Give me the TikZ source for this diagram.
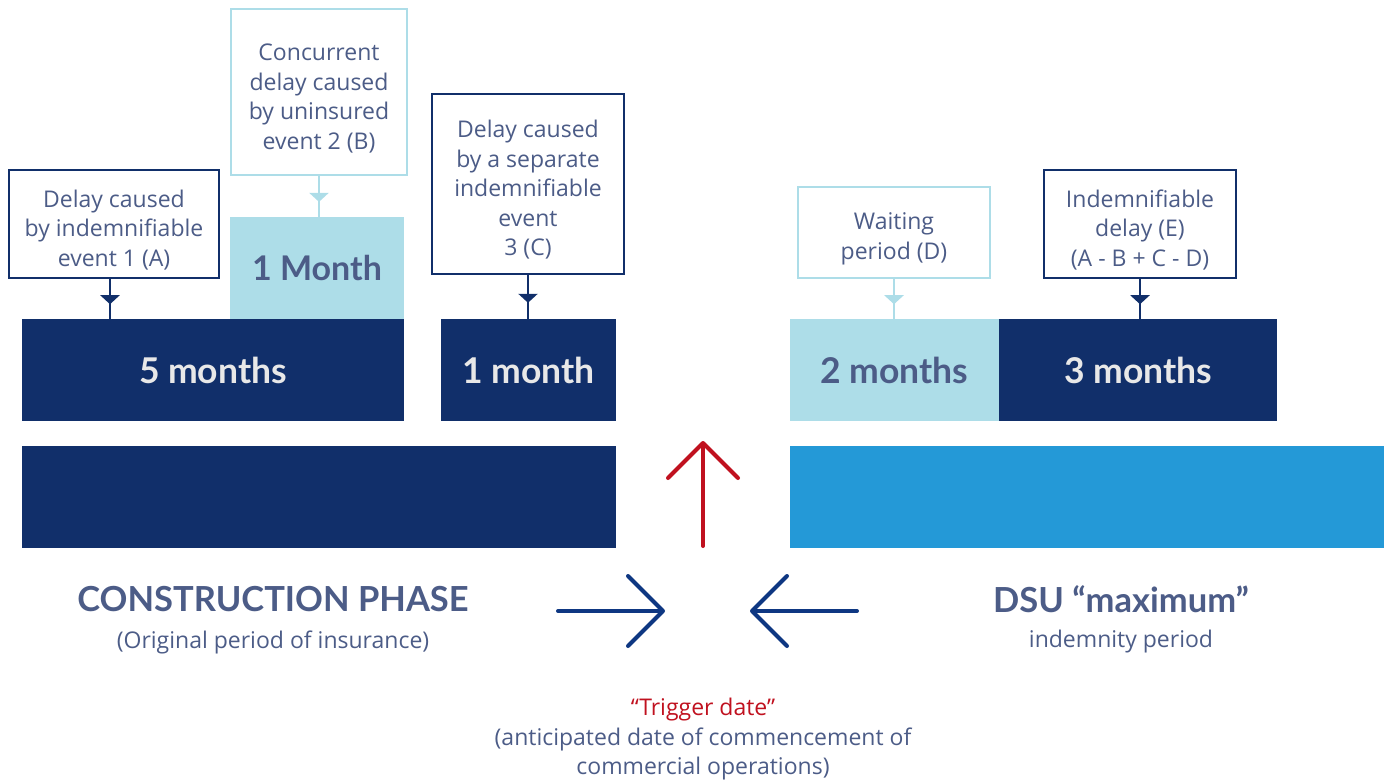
\documentclass[tikz,border=0pt]{standalone}
\usepackage{fontspec}
\setmainfont{Open Sans}
\newfontfamily\headfont{Lato}
\usetikzlibrary{arrows.meta,decorations.markings}
\definecolor{navy}{RGB}{17,47,106}
\definecolor{pale}{RGB}{173,221,232}
\definecolor{sky}{RGB}{36,153,215}
\definecolor{slate}{RGB}{76,92,135}
\definecolor{ruby}{RGB}{192,17,31}
\definecolor{arrowblue}{RGB}{14,55,130}
% tall strut on the first line pushes box text a little down
\newcommand{\lift}{\rule{0pt}{29.5pt}}
\tikzset{
  note/.style={draw=navy,line width=2pt,fill=white,align=center,text=slate,
    font=\fontsize{23}{29.5}\selectfont,inner sep=0pt,outer sep=0pt},
  palenote/.style={note,draw=pale},
  bar/.style={fill=navy,minimum height=102pt,inner sep=0pt,outer sep=0pt,
    text={rgb,255:red,232;green,232;blue,232},font=\headfont\bfseries\fontsize{35.5}{36}\selectfont},
  palebar/.style={bar,fill=pale,text=slate},
  feed/.style={line width=2.5pt,postaction={decorate},decoration={markings,
    mark=at position 0.64 with {\arrow{Triangle[width=19pt,length=9pt]}}}},
  head/.style={text=slate,font=\headfont\bfseries\fontsize{34.5}{36}\selectfont},
  sub/.style={text=slate,font=\fontsize{23}{29.5}\selectfont,align=center},
  bigarrow/.style={line width=4pt,line cap=round,-{Straight Barb[length=35pt,width=70pt,round]}}
}
\begin{document}
\begin{tikzpicture}[x=1pt,y=-1pt]
  \useasboundingbox (0,0) rectangle (1389,780);
  % delay bars
  \node[bar,minimum width=382pt] (five) at (213,370) {5 months};
  \node[palebar,minimum width=174pt,font=\headfont\bfseries\fontsize{34}{36}\selectfont] (onebig) at (317,268) {1 Month};
  \node[bar,minimum width=175pt] (one) at (528.5,370) {1 month};
  \node[palebar,minimum width=209pt] (two) at (894.5,370) {2 months};
  \node[bar,minimum width=278pt] (three) at (1138,370) {3 months};
  % phase bars
  \node[bar,minimum width=594pt] (phase) at (319,497) {};
  \node[bar,fill=sky,minimum width=594pt] (dsu) at (1087,497) {};
  % event boxes
  \node[note,minimum width=210pt,minimum height=108pt] (evA) at (114,224) {\lift Delay caused\\by indemnifiable\\event 1 (A)};
  \node[palenote,minimum width=176pt,minimum height=166pt] (evB) at (319,92) {\lift Concurrent\\delay caused\\by uninsured\\event 2 (B)};
  \node[note,minimum width=192pt,minimum height=180pt] (evC) at (528,184) {\lift Delay caused\\by a separate\\indemnifiable\\event\\3 (C)};
  \node[palenote,minimum width=192pt,minimum height=91pt] (evD) at (894,232.5) {\lift Waiting\\period (D)};
  \node[note,minimum width=192pt,minimum height=108pt] (evE) at (1140,224) {\lift Indemnifiable\\delay (E)\\(A - B + C - D)};
  \draw[feed,navy] (evA.south -| 110,0) -- (five.north -| 110,0);
  \draw[feed,pale] (evB.south) -- (onebig.north -| evB.south);
  \draw[feed,navy] (evC.south) -- (one.north -| evC.south);
  \draw[feed,pale] (evD.south) -- (two.north -| evD.south);
  \draw[feed,navy] (evE.south) -- (three.north -| evE.south);
  % captions
  \node[head] (conhead) at (273,599) {CONSTRUCTION PHASE};
  \node[sub] (consub) at (273,642) {(Original period of insurance)};
  \node[head] (dsuhead) at (1121,599) {DSU “maximum”};
  \node[sub] (dsusub) at (1121,642) {indemnity period};
  \node[sub,text=ruby] (trig) at (703,710) {“Trigger date”};
  \node[sub] (trignote) at (703,754) {(anticipated date of commencement of\\commercial operations)};
  % arrows onto the trigger date
  \coordinate (upfoot) at (703,546);
  \coordinate (uptip) at (703,441);
  \coordinate (lfoot) at (558,611);
  \coordinate (ltip) at (665,611);
  \coordinate (rfoot) at (857,611);
  \coordinate (rtip) at (750,611);
  \draw[bigarrow,ruby] (upfoot) -- (uptip);
  \draw[bigarrow,arrowblue] (lfoot) -- (ltip);
  \draw[bigarrow,arrowblue] (rfoot) -- (rtip);
\end{tikzpicture}
\end{document}
